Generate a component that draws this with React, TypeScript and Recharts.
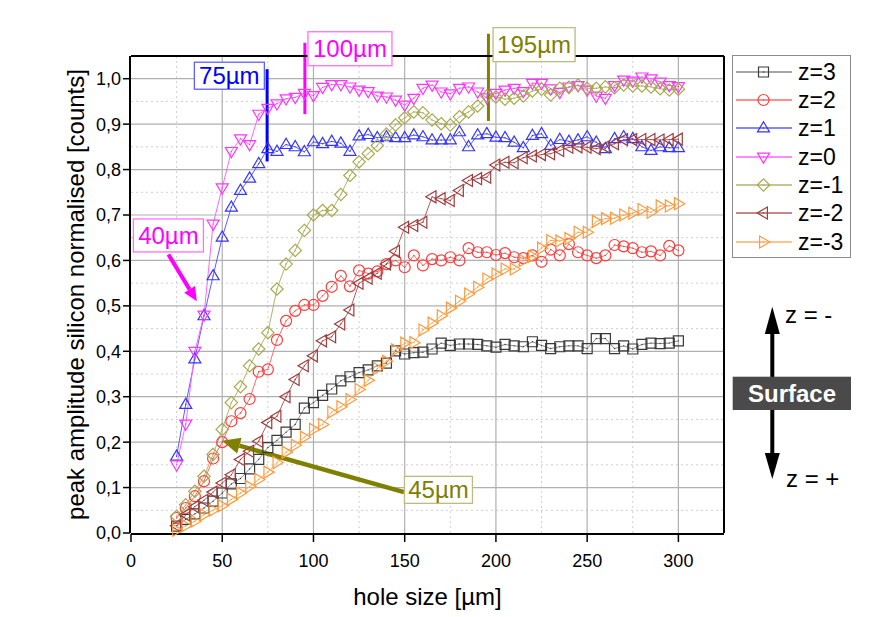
import React from 'react';
import { LineChart, Line, XAxis, YAxis, ReferenceLine, ReferenceDot, Legend } from 'recharts';

const holeSize = [25, 30, 35, 40, 45, 50, 55, 60, 65, 70, 75, 80, 85, 90, 95, 100, 105, 110, 115, 120, 125, 130, 135, 140, 145, 150, 155, 160, 165, 170, 175, 180, 185, 190, 195, 200, 205, 210, 215, 220, 225, 230, 235, 240, 245, 250, 255, 260, 265, 270, 275, 280, 285, 290, 295, 300];

const zPlus3 = [0.015, 0.03, 0.042, 0.055, 0.07, 0.088, 0.108, 0.12, 0.141, 0.162, 0.188, 0.204, 0.222, 0.239, 0.275, 0.287, 0.303, 0.317, 0.335, 0.344, 0.353, 0.359, 0.368, 0.374, 0.401, 0.394, 0.397, 0.398, 0.405, 0.418, 0.413, 0.416, 0.416, 0.415, 0.412, 0.409, 0.415, 0.412, 0.41, 0.421, 0.413, 0.406, 0.41, 0.412, 0.412, 0.406, 0.428, 0.428, 0.406, 0.412, 0.405, 0.415, 0.418, 0.417, 0.418, 0.423];
const zPlus2 = [0.033, 0.055, 0.081, 0.114, 0.164, 0.2, 0.246, 0.264, 0.295, 0.355, 0.36, 0.425, 0.467, 0.489, 0.502, 0.502, 0.522, 0.542, 0.566, 0.543, 0.578, 0.571, 0.576, 0.592, 0.6, 0.585, 0.611, 0.589, 0.603, 0.6, 0.607, 0.6, 0.627, 0.618, 0.618, 0.612, 0.616, 0.607, 0.605, 0.611, 0.597, 0.624, 0.611, 0.636, 0.618, 0.611, 0.605, 0.611, 0.634, 0.631, 0.627, 0.618, 0.62, 0.611, 0.632, 0.622];
const zPlus1 = [0.169, 0.283, 0.383, 0.478, 0.566, 0.651, 0.717, 0.754, 0.781, 0.813, 0.846, 0.84, 0.855, 0.85, 0.839, 0.861, 0.857, 0.862, 0.858, 0.84, 0.874, 0.877, 0.87, 0.872, 0.87, 0.87, 0.876, 0.872, 0.865, 0.865, 0.865, 0.883, 0.85, 0.876, 0.879, 0.871, 0.87, 0.86, 0.848, 0.875, 0.879, 0.853, 0.866, 0.862, 0.865, 0.872, 0.86, 0.846, 0.868, 0.872, 0.868, 0.85, 0.842, 0.85, 0.848, 0.848];
const zZero = [0.15, 0.24, 0.4, 0.48, 0.68, 0.76, 0.84, 0.868, 0.855, 0.922, 0.935, 0.945, 0.956, 0.959, 0.968, 0.963, 0.981, 0.987, 0.987, 0.982, 0.975, 0.972, 0.962, 0.96, 0.953, 0.942, 0.957, 0.979, 0.986, 0.971, 0.967, 0.979, 0.982, 0.971, 0.958, 0.968, 0.975, 0.979, 0.972, 0.99, 0.99, 0.978, 0.97, 0.982, 0.985, 0.975, 0.962, 0.957, 0.985, 0.997, 0.995, 1.004, 1.0, 0.993, 0.985, 0.983];
const zMinus1 = [0.037, 0.062, 0.092, 0.125, 0.173, 0.228, 0.287, 0.322, 0.368, 0.405, 0.441, 0.537, 0.592, 0.622, 0.666, 0.7, 0.71, 0.71, 0.745, 0.787, 0.817, 0.835, 0.853, 0.878, 0.898, 0.914, 0.927, 0.925, 0.909, 0.901, 0.898, 0.916, 0.927, 0.94, 0.962, 0.96, 0.955, 0.957, 0.962, 0.973, 0.977, 0.964, 0.979, 0.981, 0.986, 0.979, 0.979, 0.982, 0.98, 0.986, 0.984, 0.984, 0.982, 0.978, 0.975, 0.977];
const zMinus2 = [0.016, 0.04, 0.058, 0.072, 0.09, 0.11, 0.128, 0.162, 0.18, 0.202, 0.243, 0.257, 0.3, 0.338, 0.368, 0.39, 0.423, 0.432, 0.46, 0.491, 0.55, 0.561, 0.572, 0.592, 0.62, 0.673, 0.677, 0.684, 0.74, 0.736, 0.732, 0.754, 0.776, 0.78, 0.783, 0.81, 0.816, 0.815, 0.826, 0.83, 0.833, 0.835, 0.842, 0.849, 0.85, 0.849, 0.846, 0.85, 0.857, 0.866, 0.866, 0.866, 0.866, 0.865, 0.866, 0.867];
const zMinus3 = [0.006, 0.016, 0.026, 0.04, 0.05, 0.06, 0.074, 0.088, 0.102, 0.118, 0.134, 0.155, 0.178, 0.193, 0.211, 0.228, 0.239, 0.266, 0.278, 0.294, 0.316, 0.336, 0.362, 0.378, 0.403, 0.418, 0.419, 0.447, 0.462, 0.478, 0.495, 0.51, 0.526, 0.541, 0.559, 0.57, 0.581, 0.581, 0.6, 0.609, 0.627, 0.644, 0.643, 0.648, 0.662, 0.662, 0.686, 0.692, 0.693, 0.7, 0.704, 0.712, 0.706, 0.72, 0.72, 0.725];

const xMajorTicks = [0, 50, 100, 150, 200, 250, 300];
const xMinorTicks = [25, 75, 125, 175, 225, 275];
const xTopTicks = [0, 25, 50, 75, 100, 125, 150, 175, 200, 225, 250, 275, 300];
const yMajorTicks = [0, 0.1, 0.2, 0.3, 0.4, 0.5, 0.6, 0.7, 0.8, 0.9, 1.0];
const yMinorTicks = [0.05, 0.15, 0.25, 0.35, 0.45, 0.55, 0.65, 0.75, 0.85, 0.95];
const xGridMajor = [50, 100, 150, 200, 250, 300];
const yGridMajor = [0.1, 0.2, 0.3, 0.4, 0.5, 0.6, 0.7, 0.8, 0.9, 1.0];

const FONT = '"Liberation Sans", Arial, sans-serif';

type Shape = 'square' | 'circle' | 'up' | 'down' | 'diamond' | 'left' | 'right';
interface Series { key: string; name: string; values: number[]; marker: string; line: string; shape: Shape; }

const SERIES: Series[] = [
  { key: 'z3', name: 'z=3', values: zPlus3, marker: '#3a3a3a', line: '#8a8a8a', shape: 'square' },
  { key: 'z2', name: 'z=2', values: zPlus2, marker: '#ff3c3c', line: '#ff6a6a', shape: 'circle' },
  { key: 'z1', name: 'z=1', values: zPlus1, marker: '#3535ff', line: '#5c5cff', shape: 'up' },
  { key: 'z0', name: 'z=0', values: zZero, marker: '#ff35ff', line: '#ff66ff', shape: 'down' },
  { key: 'zm1', name: 'z=-1', values: zMinus1, marker: '#a9a94e', line: '#b3b36a', shape: 'diamond' },
  { key: 'zm2', name: 'z=-2', values: zMinus2, marker: '#a03c3c', line: '#b06262', shape: 'left' },
  { key: 'zm3', name: 'z=-3', values: zMinus3, marker: '#ff9a3c', line: '#ffb064', shape: 'right' },
];

const data = holeSize.map((x, i) => {
  const row: Record<string, number> = { x };
  SERIES.forEach((s) => { row[s.key] = s.values[i]; });
  return row;
});

// annotation anchors (data coordinates)
const boxes = [
  { text: '75µm', x: 53.9, y: 1.0066, w: 70, h: 27, color: '#0000ff', border: '#6060ff' },
  { text: '100µm', x: 120.0, y: 1.066, w: 84, h: 34, color: '#ff00ff', border: '#ff70ff' },
  { text: '195µm', x: 220.9, y: 1.075, w: 82, h: 34, color: '#808000', border: '#bcbc80' },
  { text: '40µm', x: 20.5, y: 0.655, w: 70, h: 33, color: '#ff00ff', border: '#ff70ff' },
  { text: '45µm', x: 168.5, y: 0.095, w: 68, h: 27, color: '#808000', border: '#bcbc80' },
];
const markLines = [
  { x: 74.6, y1: 0.818, y2: 1.021, color: '#0000ff' },
  { x: 95.3, y1: 0.922, y2: 1.079, color: '#ff00ff' },
  { x: 195.9, y1: 0.907, y2: 1.099, color: '#808000' },
];
const arrows = [
  { x1: 20.5, y1: 0.613, x2: 36.1, y2: 0.51, color: '#ff00ff', width: 4, head: 14 },
  { x1: 149.6, y1: 0.09, x2: 49.9, y2: 0.203, color: '#808000', width: 4.5, head: 18 },
];

function Marker({ shape, cx, cy, color }: { shape: Shape; cx: number; cy: number; color: string }) {
  let el: React.ReactNode;
  const sw = 1.2;
  if (shape === 'circle') {
    el = <circle cx={cx} cy={cy} r={5.5} fill="none" stroke={color} strokeWidth={sw} />;
  } else {
    let pts: number[][] = [];
    if (shape === 'square') pts = [[-5, -5], [5, -5], [5, 5], [-5, 5]];
    if (shape === 'up') pts = [[0, -6.3], [6, 3.9], [-6, 3.9]];
    if (shape === 'down') pts = [[0, 6.3], [6, -3.9], [-6, -3.9]];
    if (shape === 'left') pts = [[-6.3, 0], [3.9, -6], [3.9, 6]];
    if (shape === 'right') pts = [[6.3, 0], [-3.9, -6], [-3.9, 6]];
    if (shape === 'diamond') pts = [[0, -6.2], [6.2, 0], [0, 6.2], [-6.2, 0]];
    const d = pts.map((p, i) => `${i === 0 ? 'M' : 'L'}${cx + p[0]},${cy + p[1]}`).join(' ') + ' Z';
    el = <path d={d} fill="none" stroke={color} strokeWidth={sw} strokeLinejoin="miter" />;
  }
  return (
    <g>
      {el}
      <circle cx={cx} cy={cy} r={0.7} fill={color} />
    </g>
  );
}

const boxShape = (b: typeof boxes[number]) => (p: any) => (
  <g>
    <rect x={p.cx - b.w / 2} y={p.cy - b.h / 2} width={b.w} height={b.h} fill="#fff" stroke={b.border} strokeWidth={1.3} />
    <text x={p.cx} y={p.cy + 8.5} textAnchor="middle" fontSize={24} fill={b.color} fontFamily={FONT}>{b.text}</text>
  </g>
);

const arrowShape = (a: typeof arrows[number]) => (p: any) => {
  const { x1, y1, x2, y2 } = p;
  const ang = Math.atan2(y2 - y1, x2 - x1);
  const bx = x2 - a.head * Math.cos(ang);
  const by = y2 - a.head * Math.sin(ang);
  const hw = a.head * 0.45;
  const ox = -Math.sin(ang) * hw;
  const oy = Math.cos(ang) * hw;
  return (
    <g>
      <line x1={x1} y1={y1} x2={bx} y2={by} stroke={a.color} strokeWidth={a.width} />
      <polygon points={`${x2},${y2} ${bx + ox},${by + oy} ${bx - ox},${by - oy}`} fill={a.color} />
    </g>
  );
};

const renderLegend = (props: any) => {
  const payload: any[] = props.payload || [];
  return (
    <div style={{ width: 119, height: 203, border: '1px solid #8c8c8c', background: '#fff', boxSizing: 'border-box', position: 'relative', fontFamily: FONT }}>
      {SERIES.map((s, i) => {
        const entry = payload.find((q) => q.dataKey === s.key);
        return (
          <div key={s.key} style={{ position: 'absolute', left: 0, top: 15.7 + 28.35 * i - 14, height: 28, display: 'flex', alignItems: 'center' }}>
            <svg width={62} height={28} style={{ display: 'block' }}>
              <line x1={3} x2={59} y1={14} y2={14} stroke={s.line} strokeWidth={1.3} />
              <Marker shape={s.shape} cx={30.5} cy={14} color={s.marker} />
            </svg>
            <span style={{ fontSize: 23, marginLeft: 3, color: '#000', lineHeight: '28px' }}>{entry ? entry.value : s.name}</span>
          </div>
        );
      })}
    </div>
  );
};

const fmt = (v: number) => v.toFixed(1).replace('.', ',');

export default function App() {
  const axisLine = { stroke: '#000', strokeWidth: 2 };
  const tickLine = { stroke: '#000', strokeWidth: 1.5 };
  return (
    <div style={{ position: 'absolute', left: 0, top: 0, width: 880, height: 617, background: '#fff', fontFamily: FONT }}>
      <LineChart width={880} height={617} data={data} margin={{ top: 56, right: 156, bottom: 82, left: 129 }}>
        <XAxis xAxisId="main" dataKey="x" type="number" domain={[0, 325]} ticks={xMajorTicks} interval={0} height={1}
          tickSize={8} tickMargin={12} axisLine={axisLine} tickLine={tickLine}
          tick={{ fontSize: 18, fill: '#000', fontFamily: FONT }}
          label={{ value: 'hole size [µm]', position: 'bottom', offset: 53, style: { fontSize: 24, fill: '#000', fontFamily: FONT } }} />
        <XAxis xAxisId="bminor" type="number" domain={[0, 325]} ticks={xMinorTicks} interval={0} height={1}
          tickSize={4} tick={false} axisLine={false} tickLine={tickLine} allowDataOverflow />
        <XAxis xAxisId="top" orientation="top" type="number" domain={[0, 325]} ticks={xTopTicks} interval={0} height={1}
          mirror tickSize={5} tick={false} axisLine={axisLine} tickLine={tickLine} allowDataOverflow />
        <YAxis yAxisId="main" type="number" domain={[0, 1.05]} ticks={yMajorTicks} interval={0} width={1}
          tickSize={7} tickMargin={2} axisLine={axisLine} tickLine={tickLine} tickFormatter={fmt}
          tick={{ fontSize: 18, fill: '#000', fontFamily: FONT }}
          label={{ value: 'peak amplitude silicon normalised [counts]', angle: -90, position: 'left', offset: 54, style: { fontSize: 24, fill: '#000', fontFamily: FONT, textAnchor: 'middle' } }} />
        <YAxis yAxisId="lminor" type="number" domain={[0, 1.05]} ticks={yMinorTicks} interval={0} width={1}
          tickSize={3} tick={false} axisLine={false} tickLine={tickLine} allowDataOverflow />
        <YAxis yAxisId="right" orientation="right" type="number" domain={[0, 1.05]} ticks={yMajorTicks} interval={0} width={1}
          mirror tickSize={8} tick={false} axisLine={axisLine} tickLine={tickLine} allowDataOverflow />
        <YAxis yAxisId="rminor" orientation="right" type="number" domain={[0, 1.05]} ticks={yMinorTicks} interval={0} width={1}
          mirror tickSize={7} tick={false} axisLine={false} tickLine={tickLine} allowDataOverflow />

        {xMinorTicks.map((v) => (
          <ReferenceLine key={`vx${v}`} xAxisId="main" yAxisId="main" x={v} stroke="#cfcfcf" strokeDasharray="2 3" strokeWidth={1} />
        ))}
        {yMinorTicks.map((v) => (
          <ReferenceLine key={`hy${v}`} xAxisId="main" yAxisId="main" y={v} stroke="#cfcfcf" strokeDasharray="2 3" strokeWidth={1} />
        ))}
        {xGridMajor.map((v) => (
          <ReferenceLine key={`VX${v}`} xAxisId="main" yAxisId="main" x={v} stroke="#b0b0b0" strokeWidth={1.2} />
        ))}
        {yGridMajor.map((v) => (
          <ReferenceLine key={`HY${v}`} xAxisId="main" yAxisId="main" y={v} stroke="#b0b0b0" strokeWidth={1.2} />
        ))}

        {SERIES.map((s) => (
          <Line key={s.key} xAxisId="main" yAxisId="main" type="linear" dataKey={s.key} name={s.name}
            stroke={s.line} strokeWidth={1} isAnimationActive={false} activeDot={false}
            dot={(p: any) => <Marker key={`${s.key}-${p.index}`} shape={s.shape} cx={p.cx} cy={p.cy} color={s.marker} />} />
        ))}

        {markLines.map((m, i) => (
          <ReferenceLine key={`ml${i}`} xAxisId="main" yAxisId="main" ifOverflow="visible"
            segment={[{ x: m.x, y: m.y1 }, { x: m.x, y: m.y2 }]} stroke={m.color} strokeWidth={3} />
        ))}
        {arrows.map((a, i) => (
          <ReferenceLine key={`ar${i}`} xAxisId="main" yAxisId="main" ifOverflow="visible"
            segment={[{ x: a.x1, y: a.y1 }, { x: a.x2, y: a.y2 }]} shape={arrowShape(a)} />
        ))}
        {boxes.map((b, i) => (
          <ReferenceDot key={`bx${i}`} xAxisId="main" yAxisId="main" ifOverflow="visible" x={b.x} y={b.y} r={1} shape={boxShape(b)} />
        ))}

        <Legend layout="horizontal" verticalAlign="middle" align="center" content={renderLegend}
          wrapperStyle={{ left: 732, top: 55, width: 119, height: 203 }} />
      </LineChart>

      <svg width={880} height={617} style={{ position: 'absolute', left: 0, top: 0, pointerEvents: 'none' }}>
        <line x1={772.3} y1={331} x2={772.3} y2={377} stroke="#000" strokeWidth={4} />
        <polygon points="772.3,306.7 764.8,334 779.8,334" fill="#000" />
        <line x1={772.3} y1={410} x2={772.3} y2={455} stroke="#000" strokeWidth={4} />
        <polygon points="772.3,479 764.8,453 779.8,453" fill="#000" />
        <rect x={732.7} y={376.7} width={118.3} height={33.3} fill="#4a4a4a" />
        <text x={792} y={402} textAnchor="middle" fontSize={24} fontWeight="bold" fill="#fff" fontFamily={FONT}>Surface</text>
        <text x={785} y={323} fontSize={24} fill="#000" fontFamily={FONT}>z = -</text>
        <text x={786} y={487} fontSize={24} fill="#000" fontFamily={FONT}>z = +</text>
      </svg>
    </div>
  );
}
